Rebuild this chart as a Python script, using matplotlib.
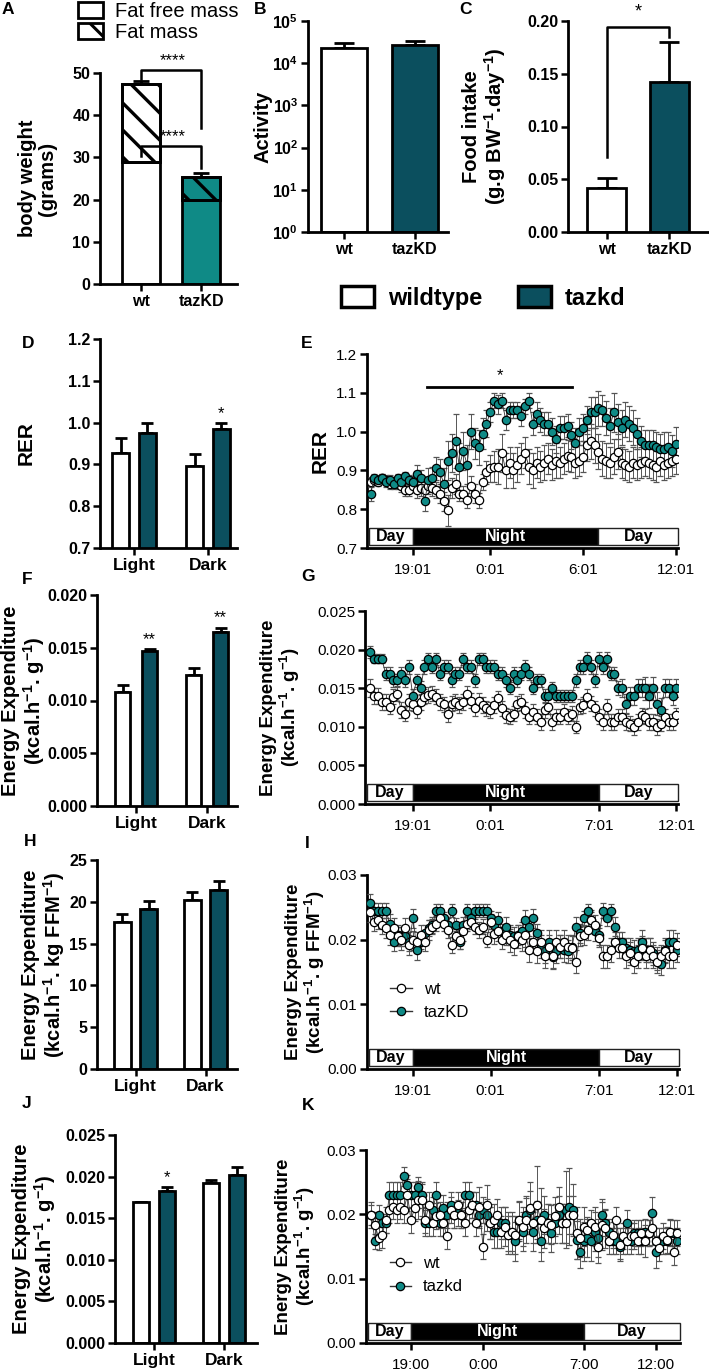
import numpy as np
import matplotlib
matplotlib.use('Agg')
import matplotlib.pyplot as plt
from matplotlib.patches import Patch, Rectangle
from matplotlib.lines import Line2D
import matplotlib.transforms as mtransforms
from matplotlib.ticker import NullLocator

plt.rcParams.update({
    'font.family': ['Liberation Sans', 'DejaVu Sans'],
    'mathtext.fontset': 'custom',
    'mathtext.rm': 'Liberation Sans',
    'mathtext.bf': 'Liberation Sans:bold',
    'mathtext.it': 'Liberation Sans:italic',
    'hatch.linewidth': 2.2,
    'axes.linewidth': 1.8,
})

KD_DARK = '#0b4f5e'
KD_TEAL = '#0f8a86'

# ---------------- data ----------------
genotypes = ['wt', 'tazKD']
fat_free_mass = [28.8, 20.0]
fat_free_err = [1.1, 1.0]
total_mass = [47.3, 25.4]
total_err = [0.8, 0.9]
activity = [2.3e4, 2.7e4]
activity_err = [0.7e4, 0.7e4]
food_intake = [0.042, 0.142]
food_err = [0.009, 0.038]

periods = ['Light', 'Dark']
rer_wt = [0.928, 0.897]
rer_wt_err = [0.035, 0.028]
rer_kd = [0.975, 0.985]
rer_kd_err = [0.023, 0.013]
ee_wt = [0.0108, 0.0124]
ee_wt_err = [0.0007, 0.0007]
ee_kd = [0.0147, 0.0165]
ee_kd_err = [0.0002, 0.0004]
eeffm_wt = [17.6, 20.2]
eeffm_wt_err = [1.0, 1.0]
eeffm_kd = [19.1, 21.4]
eeffm_kd_err = [1.0, 1.1]
ee2_wt = [0.0169, 0.0192]
ee2_wt_err = [0.0, 0.0004]
ee2_kd = [0.0183, 0.0202]
ee2_kd_err = [0.0004, 0.001]

# time series (hours; 24 = midnight), 15-min bins
t_main = np.arange(16.25, 36.01, 0.25)
t_K = np.arange(16.25, 37.51, 0.25)

E_kd = [0.84,0.88,0.875,0.88,0.87,0.875,0.865,0.88,0.87,0.885,
        0.875,0.87,0.89,0.88,0.82,0.875,0.88,0.905,0.895,0.865,
        0.925,0.945,0.975,0.91,0.95,0.915,1.0,0.97,0.96,0.995,
        1.02,1.05,1.08,1.07,1.08,1.03,1.055,1.055,1.055,1.04,
        1.065,1.08,1.02,1.045,1.03,1.02,1.02,1.0,0.98,1.01,
        1.01,1.015,0.99,0.97,1.0,1.01,1.03,1.05,1.05,1.06,
        1.055,1.035,1.015,1.05,1.025,1.01,1.03,1.02,1.01,0.995,
        0.975,0.965,0.965,0.965,0.96,0.955,0.955,0.96,0.95,0.968]
E_kd_err = [0.02,0.012,0.012,0.012,0.012,0.012,0.012,0.012,0.012,0.012,0.012,0.015,
            0.025,0.02,0.025,0.03,0.03,0.03,0.035,0.04,
            0.05,0.05,0.07,0.06,0.05,0.05,0.045,0.04,0.045,0.04,0.035,
            0.025,0.02,0.025,0.02,0.025,0.02,0.02,0.02,0.025,0.02,0.02,0.03,0.03,0.03,0.03,
            0.03,0.035,0.035,0.03,0.03,0.03,0.035,0.04,0.035,0.035,0.035,
            0.04,0.04,0.045,0.04,0.045,0.045,0.05,0.045,0.045,0.045,0.045,0.045,
            0.04,0.04,0.04,0.04,0.04,0.04,0.04,0.045,0.04,0.04,0.045]
E_wt = [0.87,0.875,0.87,0.88,0.875,0.865,0.87,0.865,0.86,0.85,
        0.85,0.86,0.85,0.855,0.85,0.86,0.855,0.85,0.84,0.82,
        0.797,0.855,0.865,0.84,0.84,0.823,0.86,0.84,0.823,0.87,
        0.895,0.905,0.91,0.91,0.945,0.9,0.92,0.9,0.915,0.93,
        0.945,0.91,0.9,0.92,0.91,0.92,0.93,0.915,0.925,0.92,
        0.93,0.938,0.935,0.92,0.925,0.935,0.965,0.975,0.965,0.948,
        0.93,0.925,0.92,0.935,0.948,0.92,0.915,0.91,0.92,0.915,
        0.92,0.925,0.92,0.915,0.91,0.925,0.915,0.92,0.925,0.93]
E_wt_err = [0.012,0.012,0.01,0.012,0.012,0.012,0.012,0.012,0.015,0.015,0.015,0.015,
            0.02,0.02,0.02,0.02,0.02,0.02,0.025,0.025,0.04,0.025,0.025,0.02,0.02,0.02,0.025,0.025,0.02,0.02,
            0.03,0.035,0.04,0.045,0.05,0.045,0.04,0.045,0.045,0.04,
            0.04,0.045,0.045,0.04,0.04,0.045,0.04,0.04,0.045,0.04,
            0.04,0.04,0.04,0.04,0.04,0.04,0.04,0.045,0.045,0.045,
            0.045,0.045,0.04,0.045,0.045,0.04,0.04,0.04,0.04,0.04,
            0.04,0.04,0.04,0.04,0.04,0.04,0.04,0.04,0.04,0.04]

G_kd = [0.0197,0.0188,0.0188,0.0188,0.0169,0.0169,0.016,0.016,0.0168,0.016,
        0.0178,0.014,0.016,0.015,0.0178,0.0188,0.0178,0.0188,0.0169,0.0178,
        0.0178,0.016,0.0169,0.0169,0.0188,0.0178,0.0178,0.016,0.0188,0.0188,
        0.0178,0.0178,0.0178,0.0169,0.0169,0.016,0.015,0.0169,0.016,0.0169,
        0.0178,0.0169,0.015,0.016,0.016,0.014,0.014,0.015,0.014,0.014,
        0.014,0.014,0.014,0.016,0.0178,0.0178,0.0188,0.0178,0.016,0.0188,
        0.0178,0.0188,0.0169,0.0169,0.015,0.015,0.013,0.014,0.014,0.015,
        0.015,0.015,0.014,0.015,0.013,0.0122,0.015,0.015,0.014,0.015]
G_kd_err = [0.0008,0.0006,0.0006,0.0006,0.0008,0.0008,0.0009,0.0009,0.0009,0.0009,
            0.0009,0.0009,0.0009,0.0009,0.0009,0.0008,0.0008,0.0008,0.0008,0.0008,
            0.0008,0.0008,0.0008,0.0008,0.0008,0.0008,0.0008,0.0008,0.0008,0.0008,
            0.0008,0.0008,0.0008,0.0008,0.0008,0.0008,0.0008,0.0008,0.0008,0.0008,
            0.0008,0.0008,0.0008,0.0008,0.0009,0.0009,0.0009,0.0008,0.0008,0.0008,
            0.0008,0.0008,0.0008,0.0009,0.0009,0.0009,0.0009,0.0009,0.0009,0.0009,
            0.0009,0.0009,0.0009,0.0009,0.0009,0.0012,0.0012,0.0012,0.0012,0.0012,
            0.0012,0.0015,0.0015,0.0015,0.0015,0.0015,0.0012,0.0012,0.0012,0.0012]
G_wt = [0.0150,0.0140,0.0140,0.0132,0.0132,0.0126,0.0139,0.0143,0.0122,0.0117,
        0.0132,0.0130,0.0122,0.0132,0.0139,0.0141,0.0143,0.0139,0.0132,0.0129,
        0.0116,0.0130,0.0132,0.0128,0.0132,0.0143,0.0134,0.0124,0.0134,0.0128,
        0.0124,0.0122,0.0128,0.0137,0.0124,0.0115,0.0113,0.0117,0.0130,0.0132,
        0.0122,0.0113,0.0119,0.0113,0.0106,0.0122,0.0126,0.0106,0.0113,0.0113,
        0.0119,0.0113,0.0117,0.0100,0.0126,0.0128,0.0139,0.0130,0.0124,0.0113,
        0.0106,0.0126,0.0106,0.0106,0.0113,0.0113,0.0106,0.0104,0.0100,0.0106,
        0.0115,0.0113,0.0106,0.0106,0.0100,0.0104,0.0113,0.0106,0.0106,0.0115]
G_wt_err = [0.0012,0.001,0.001,0.001,0.001,0.001,0.001,0.001,0.001,0.001,
            0.001,0.001,0.001,0.001,0.001,0.001,0.001,0.001,0.001,0.001,
            0.001,0.001,0.001,0.001,0.001,0.001,0.001,0.001,0.001,0.001,
            0.001,0.001,0.001,0.001,0.001,0.001,0.001,0.001,0.001,0.001,
            0.001,0.001,0.001,0.001,0.001,0.001,0.001,0.001,0.001,0.001,
            0.001,0.001,0.001,0.0008,0.001,0.001,0.001,0.001,0.001,0.001,
            0.001,0.001,0.001,0.001,0.001,0.001,0.001,0.001,0.001,0.001,
            0.001,0.001,0.001,0.001,0.001,0.001,0.001,0.001,0.001,0.001]

I_kd = [0.0256,0.0245,0.0245,0.0245,0.0245,0.0225,0.0197,0.0207,0.0205,0.0205,
        0.0197,0.0233,0.0184,0.0197,0.021,0.0218,0.0223,0.0245,0.0245,0.0233,
        0.0223,0.0245,0.0223,0.0197,0.0223,0.0245,0.0233,0.0245,0.0245,0.0245,
        0.0245,0.0233,0.0223,0.0231,0.0213,0.022,0.0207,0.0205,0.0207,0.0213,
        0.0231,0.022,0.0233,0.021,0.0189,0.0182,0.0197,0.0173,0.0182,0.0189,
        0.0184,0.0182,0.0189,0.022,0.021,0.0233,0.0245,0.0231,0.0213,0.0207,
        0.0245,0.0233,0.0245,0.022,0.0197,0.0197,0.0187,0.0184,0.0182,0.0184,
        0.0197,0.0184,0.0184,0.0179,0.0171,0.0163,0.0184,0.0197,0.0197,0.0184]
I_kd_err = [0.0015,0.0012,0.0012,0.0012,0.0012,0.0015,0.0015,0.0015,0.0015,0.0015,
            0.0015,0.0015,0.0015,0.0012,0.0012,0.0012,0.0012,0.001,0.001,0.001,
            0.001,0.001,0.001,0.0012,0.0012,0.001,0.001,0.001,0.001,0.001,
            0.001,0.0012,0.0012,0.0012,0.0012,0.0015,0.0015,0.0015,0.0015,0.0015,
            0.0015,0.0015,0.0015,0.0015,0.0018,0.0018,0.0018,0.0018,0.0018,0.0018,
            0.0018,0.0018,0.0018,0.0015,0.0015,0.0012,0.001,0.0012,0.0015,0.0015,
            0.0012,0.0012,0.001,0.0015,0.0015,0.0015,0.0015,0.0018,0.0018,0.0018,
            0.0018,0.0018,0.0018,0.0018,0.0018,0.0018,0.0018,0.0018,0.0018,0.0018]
I_wt = [0.0243,0.0228,0.0231,0.0223,0.0218,0.0207,0.0218,0.0205,0.0199,0.0218,
        0.0192,0.0199,0.0197,0.0207,0.0197,0.0215,0.022,0.0225,0.0233,0.0225,
        0.0215,0.0192,0.0205,0.02,0.0213,0.0225,0.0228,0.022,0.0215,0.022,
        0.02,0.0228,0.0208,0.0213,0.02,0.0207,0.0199,0.0194,0.0205,0.02,
        0.0207,0.0184,0.0197,0.0182,0.0197,0.0174,0.0189,0.0174,0.0197,0.0189,
        0.0197,0.0189,0.0187,0.0166,0.0205,0.0207,0.0215,0.0231,0.0223,0.0203,
        0.0174,0.0174,0.0184,0.0197,0.0187,0.0187,0.0174,0.0179,0.0166,0.0174,
        0.0187,0.0174,0.0184,0.0174,0.0166,0.0174,0.0182,0.0174,0.0174,0.0192]
I_wt_err = [0.0015,0.0015,0.0015,0.0015,0.0015,0.0015,0.0015,0.0015,0.0015,0.0015,
            0.0015,0.0015,0.0015,0.0015,0.0015,0.0015,0.0012,0.0012,0.0012,0.0012,
            0.0012,0.0012,0.0012,0.0015,0.0015,0.0012,0.0012,0.0012,0.0012,0.0012,
            0.0012,0.0012,0.0015,0.0015,0.0015,0.0015,0.0018,0.0018,0.0018,0.0018,
            0.0018,0.0018,0.0018,0.0018,0.0018,0.0018,0.0018,0.0018,0.0018,0.0018,
            0.0018,0.0018,0.0018,0.0018,0.0015,0.0015,0.0015,0.0015,0.0015,0.0015,
            0.0018,0.0018,0.0018,0.0015,0.0015,0.0015,0.0018,0.0018,0.0018,0.0018,
            0.0018,0.0018,0.0018,0.0018,0.0018,0.0018,0.0018,0.0018,0.0018,0.0018]

K_kd = [0.0199,0.0158,0.0199,0.0186,0.0186,0.023,0.023,0.023,0.023,0.0259,
        0.0246,0.023,0.023,0.0243,0.023,0.0186,0.0186,0.0207,0.023,0.0186,
        0.021,0.0199,0.0215,0.0199,0.0202,0.0199,0.023,0.023,0.0215,0.0215,
        0.0199,0.0207,0.0199,0.0186,0.0173,0.0173,0.0186,0.0186,0.0173,0.0168,
        0.0158,0.0189,0.0173,0.0199,0.0207,0.0173,0.0191,0.0158,0.0199,0.0186,
        0.0171,0.0186,0.0199,0.0186,0.0207,0.0212,0.0207,0.0160,0.0142,0.0158,
        0.0163,0.0158,0.0173,0.0163,0.0199,0.0186,0.0173,0.0158,0.0158,0.0150,
        0.0158,0.0186,0.0158,0.0171,0.0171,0.0158,0.0173,0.0171,0.0202,0.0142,
        0.0158,0.0158,0.0158,0.0171,0.0171,0.0158]
K_kd_err = [0.0015,0.0012,0.0015,0.0015,0.0015,0.002,0.002,0.002,0.002,0.0015,
            0.0015,0.002,0.002,0.0015,0.002,0.002,0.002,0.002,0.002,0.002,
            0.002,0.002,0.002,0.002,0.002,0.002,0.002,0.002,0.002,0.002,
            0.002,0.002,0.0025,0.0025,0.0025,0.0025,0.0025,0.0025,0.003,0.003,
            0.003,0.003,0.003,0.003,0.003,0.003,0.003,0.003,0.003,0.003,
            0.003,0.003,0.003,0.003,0.006,0.006,0.004,0.003,0.0025,0.003,
            0.003,0.003,0.003,0.003,0.002,0.002,0.002,0.002,0.002,0.002,
            0.002,0.002,0.002,0.002,0.002,0.002,0.002,0.002,0.0025,0.0025,
            0.002,0.002,0.002,0.002,0.002,0.002]
K_wt = [0.0199,0.0184,0.0163,0.0168,0.0191,0.0207,0.0212,0.0207,0.0212,0.0207,
        0.0230,0.0191,0.0210,0.0222,0.0222,0.0191,0.0215,0.0186,0.0197,0.0199,
        0.0186,0.0166,0.0207,0.0199,0.0215,0.0199,0.0186,0.0207,0.0215,0.0186,
        0.0212,0.0150,0.0215,0.0186,0.0191,0.0199,0.0173,0.0181,0.0168,0.0173,
        0.0168,0.0191,0.0181,0.0191,0.0210,0.0186,0.0215,0.0191,0.0178,0.0186,
        0.0184,0.0197,0.0212,0.0186,0.0186,0.0199,0.0199,0.0171,0.0163,0.0181,
        0.0176,0.0186,0.0181,0.0150,0.0184,0.0178,0.0158,0.0168,0.0191,0.0153,
        0.0166,0.0158,0.0166,0.0166,0.0158,0.0171,0.0158,0.0171,0.0178,0.0158,
        0.0147,0.0166,0.0160,0.0173,0.0142,0.0171]
K_wt_err = [0.002,0.002,0.0018,0.002,0.002,0.002,0.002,0.002,0.002,0.002,
            0.0025,0.002,0.002,0.003,0.0025,0.002,0.002,0.002,0.002,0.002,
            0.002,0.002,0.002,0.002,0.002,0.002,0.002,0.002,0.002,0.002,
            0.003,0.002,0.003,0.0025,0.0025,0.0025,0.0025,0.003,0.003,0.003,
            0.003,0.003,0.003,0.0035,0.004,0.003,0.006,0.005,0.003,0.003,
            0.003,0.003,0.003,0.003,0.003,0.003,0.003,0.004,0.003,0.003,
            0.002,0.002,0.003,0.0025,0.004,0.003,0.002,0.002,0.002,0.0025,
            0.002,0.002,0.002,0.002,0.002,0.002,0.0025,0.002,0.0025,0.002,
            0.002,0.002,0.002,0.002,0.002,0.002]

night_start, night_end = 19, 31
rer_sig_span = [19.9, 29.3]

# ---------------- figure ----------------
W, H = 709, 1370
fig = plt.figure(figsize=(W / 100, H / 100), dpi=100)


def add_ax(l, t, r, b):
    return fig.add_axes([l / W, 1 - b / H, (r - l) / W, (b - t) / H])


def style_common(ax, bold=True, labelsize=11.5):
    for s in ['top', 'right']:
        ax.spines[s].set_visible(False)
    for s in ['left', 'bottom']:
        ax.spines[s].set_linewidth(2.0)
    ax.tick_params(direction='out', length=5, width=1.8, labelsize=labelsize, pad=2)
    if bold:
        for lab in ax.get_xticklabels() + ax.get_yticklabels():
            lab.set_fontweight('bold')


def set_ylabel(ax, text, xpos, size=14):
    ax.set_ylabel(text, fontsize=size, fontweight='bold', linespacing=1.05)
    ax.yaxis.set_label_coords(xpos, 0.5)


def upper_err(ax, x, y, e, capsize=5):
    ax.errorbar(x, y, yerr=[np.zeros(len(y)), e], fmt='none', ecolor='black',
                elinewidth=2, capsize=capsize, capthick=2, zorder=1)


def diag_hatch(ax, patch, pitch=27, lw=2.4):
    bb = patch.get_window_extent()
    x0, y0, x1, y1 = bb.x0, bb.y0, bb.x1, bb.y1
    h = y1 - y0
    c = x0 - h + 6
    while c < x1:
        ln = Line2D([c, c + h], [y1, y0], transform=mtransforms.IdentityTransform(),
                    color='black', lw=lw, zorder=3)
        ax.add_line(ln)
        ln.set_clip_path(patch)
        c += pitch


# ---- A ----
axA = add_ax(100, 73, 237, 284)
xa = np.arange(len(genotypes))
fat_mass = np.array(total_mass) - np.array(fat_free_mass)
colsA = ['white', KD_TEAL]
upper_err(axA, xa, fat_free_mass, fat_free_err, capsize=6)
upper_err(axA, xa, total_mass, total_err, capsize=6)
axA.bar(xa, fat_free_mass, 0.63, color=colsA, edgecolor='black', lw=2, zorder=2)
fm_bars = axA.bar(xa, fat_mass, 0.63, bottom=fat_free_mass, color=colsA,
                  edgecolor='black', lw=2, zorder=2)
axA.set_xlim(-0.683, 1.59)
axA.set_ylim(0, 50)
axA.set_yticks([0, 10, 20, 30, 40, 50])
axA.set_xticks(xa)
axA.set_xticklabels(genotypes)
style_common(axA)
for p in fm_bars:
    diag_hatch(axA, p)
for p in fm_bars:
    axA.add_patch(Rectangle(p.get_xy(), p.get_width(), p.get_height(), fill=False,
                            ec='black', lw=2, zorder=4))
axA.plot([0, 0, 1, 1], [48.6, 50.7, 50.7, 37.0], color='black', lw=1.8, clip_on=False)
axA.plot([0, 0, 1, 1], [30.3, 32.7, 32.7, 27.5], color='black', lw=1.8, clip_on=False)
axA.text(0.53, 51.2, '****', ha='center', va='bottom', fontsize=12)
axA.text(0.53, 33.2, '****', ha='center', va='bottom', fontsize=12)
set_ylabel(axA, 'body weight\n(grams)', -0.314, size=14.5)
fig.legend([Patch(fc='white', ec='black', lw=2), Patch(fc='white', ec='black', lw=2, hatch='\\')],
           ['Fat free mass', 'Fat mass'], loc='upper left',
           bbox_to_anchor=(78 / W, 1 - 2 / H), frameon=False, fontsize=14.5,
           handlelength=1.25, handleheight=0.85, labelspacing=0.12, handletextpad=0.6,
           borderpad=0, borderaxespad=0)

# ---- B ----
axB = add_ax(308, 21, 448, 232)
axB.set_yscale('log')
upper_err(axB, xa, activity, activity_err, capsize=7)
axB.bar(xa, np.array(activity) - 1, 0.65, bottom=1, color=['white', KD_DARK],
        edgecolor='black', lw=2, zorder=2)
axB.set_ylim(1, 1e5)
axB.set_xlim(-0.507, 1.465)
axB.set_yticks([1, 10, 100, 1e3, 1e4, 1e5])
axB.set_yticklabels([r'$\mathbf{10^{%d}}$' % k for k in range(6)])
axB.yaxis.set_minor_locator(NullLocator())
axB.set_xticks(xa)
axB.set_xticklabels(genotypes)
style_common(axB)
set_ylabel(axB, 'Activity', -0.257, size=14.5)

# ---- C ----
axC = add_ax(568, 21, 708, 232)
upper_err(axC, xa, food_intake, food_err, capsize=7)
axC.bar(xa, food_intake, 0.62, color=['white', KD_DARK], edgecolor='black', lw=2, zorder=2)
axC.set_ylim(0, 0.2)
axC.set_xlim(-0.616, 1.62)
axC.set_yticks([0, 0.05, 0.10, 0.15, 0.20])
axC.set_yticklabels(['0.00', '0.05', '0.10', '0.15', '0.20'])
axC.set_xticks(xa)
axC.set_xticklabels(genotypes)
style_common(axC)
axC.plot([0, 0, 1, 1], [0.071, 0.194, 0.194, 0.185], color='black', lw=1.8, clip_on=False)
axC.text(0.5, 0.2005, '*', ha='center', va='bottom', fontsize=13)
set_ylabel(axC, 'Food intake\n(g.g BW$^{\\mathbf{-1}}$.day$^{\\mathbf{-1}}$)', -0.43, size=14.5)

# ---- big legend ----
fig.legend([Patch(fc='white', ec='black', lw=2.5), Patch(fc=KD_DARK, ec='black', lw=2.5)],
           ['wildtype', 'tazkd'], loc='center', bbox_to_anchor=(483 / W, 1 - 298 / H),
           ncol=2, frameon=False, prop={'weight': 'bold', 'size': 17},
           handlelength=1.4, handleheight=1.0, handletextpad=0.6, columnspacing=1.5,
           borderpad=0, borderaxespad=0)


# ---- grouped bar panels ----
def grouped_panel(box, wt, wt_err, kd, kd_err, ylim, yticks, ylabels, off, width, xlim,
                  stars, ylabel, ylab_x, ylab_size=14.5):
    ax = add_ax(*box)
    xg = np.arange(len(periods))
    upper_err(ax, xg - off, wt, wt_err, capsize=4.5)
    upper_err(ax, xg + off, kd, kd_err, capsize=4.5)
    ax.bar(xg - off, wt, width, color='white', edgecolor='black', lw=2, zorder=2)
    ax.bar(xg + off, kd, width, color=KD_DARK, edgecolor='black', lw=2, zorder=2)
    ax.set_ylim(*ylim)
    ax.set_xlim(*xlim)
    ax.set_yticks(yticks)
    ax.set_yticklabels(ylabels)
    ax.set_xticks(xg)
    ax.set_xticklabels(periods)
    style_common(ax)
    ax.tick_params(axis='x', labelsize=12.5)
    for lab in ax.get_xticklabels():
        lab.set_fontweight('bold')
    span = ylim[1] - ylim[0]
    for i, s in enumerate(stars):
        if s:
            ax.text(i + off, kd[i] + kd_err[i] + 0.01 * span, s, ha='center', va='bottom', fontsize=12)
    set_ylabel(ax, ylabel, ylab_x, size=ylab_size)
    return ax


axD = grouped_panel((100, 339, 237, 548), rer_wt, rer_wt_err, rer_kd, rer_kd_err,
                    (0.7, 1.2), [0.7, 0.8, 0.9, 1.0, 1.1, 1.2],
                    ['0.7', '0.8', '0.9', '1.0', '1.1', '1.2'], 0.18, 0.23, (-0.46, 1.39),
                    ['', '*'], 'RER', -0.467, ylab_size=15)
axF = grouped_panel((97, 595, 237, 806), ee_wt, ee_wt_err, ee_kd, ee_kd_err,
                    (0, 0.02), [0, 0.005, 0.01, 0.015, 0.02],
                    ['0.000', '0.005', '0.010', '0.015', '0.020'], 0.19, 0.22, (-0.55, 1.42),
                    ['**', '**'], 'Energy Expenditure\n(kcal.h$^{\\mathbf{-1}}$. g$^{\\mathbf{-1}}$)',
                    -0.357)
axH = grouped_panel((97, 860, 237, 1069), eeffm_wt, eeffm_wt_err, eeffm_kd, eeffm_kd_err,
                    (0, 25), [0, 5, 10, 15, 20, 25],
                    ['0', '5', '10', '15', '20', '25'], 0.186, 0.235, (-0.55, 1.45),
                    ['', ''], 'Energy Expenditure\n(kcal.h$^{\\mathbf{-1}}$. kg FFM$^{\\mathbf{-1}}$)',
                    -0.214)
axJ = grouped_panel((115, 1135, 257, 1343), ee2_wt, ee2_wt_err, ee2_kd, ee2_kd_err,
                    (0, 0.025), [0, 0.005, 0.01, 0.015, 0.02, 0.025],
                    ['0.000', '0.005', '0.010', '0.015', '0.020', '0.025'], 0.186, 0.22,
                    (-0.557, 1.47), ['*', ''],
                    'Energy Expenditure\n(kcal.h$^{\\mathbf{-1}}$. g$^{\\mathbf{-1}}$)', -0.40)


# ---- time series panels ----
def day_night(ax):
    x0, x1 = ax.get_xlim()
    trans = mtransforms.blended_transform_factory(ax.transData, ax.transAxes)
    segs = [(x0 + 0.13, night_start, 'white', 'Day', 'black'),
            (night_start, night_end, 'black', 'Night', 'white'),
            (night_end, x1, 'white', 'Day', 'black')]
    for a, b, fc, txt, tc in segs:
        ax.add_patch(Rectangle((a, 0.015), b - a, 0.09, transform=trans, fc=fc, ec='#222222',
                               lw=1.0, zorder=6, clip_on=False))
        ax.text((a + b) / 2, 0.06, txt, transform=trans, ha='center', va='center', color=tc,
                fontweight='bold', fontsize=11.5, zorder=7)


def draw_series(ax, t, y, e, fc):
    ax.errorbar(t, y, yerr=e, fmt='-o', color='#333333', lw=0.6, ms=6, mfc=fc, mec='black',
                mew=0.9, ecolor='#555555', elinewidth=0.7, capsize=2.3, capthick=0.7, zorder=3)


def ts_panel(box, t, wt, wt_err, kd, kd_err, xlim, ylim, yticks, ylabels, xticks, xlabels,
             ylabel, ylab_x, kd_first=False, ylab_size=13.5):
    ax = add_ax(*box)
    if kd_first:
        draw_series(ax, t, kd, kd_err, KD_TEAL)
        draw_series(ax, t, wt, wt_err, 'white')
    else:
        draw_series(ax, t, wt, wt_err, 'white')
        draw_series(ax, t, kd, kd_err, KD_TEAL)
    ax.set_xlim(*xlim)
    ax.set_ylim(*ylim)
    ax.set_yticks(yticks)
    ax.set_yticklabels(ylabels)
    ax.set_xticks(xticks)
    ax.set_xticklabels(xlabels)
    style_common(ax, bold=False, labelsize=11)
    ax.tick_params(axis='x', pad=6)
    day_night(ax)
    set_ylabel(ax, ylabel, ylab_x, size=ylab_size)
    return ax


axE = ts_panel((367, 354, 678, 548), t_main, E_wt, E_wt_err, E_kd, E_kd_err, (16.02, 36.15),
               (0.7, 1.2), [0.7, 0.8, 0.9, 1.0, 1.1, 1.2], ['0.7', '0.8', '0.9', '1.0', '1.1', '1.2'],
               [19, 24, 30, 36], ['19:01', '0:01', '6:01', '12:01'], 'RER', -0.119, ylab_size=15)
axE.plot(rer_sig_span, [1.115, 1.115], color='black', lw=2)
axE.text(np.mean(rer_sig_span), 1.125, '*', ha='center', va='bottom', fontsize=12)

axG = ts_panel((365, 611, 678, 804), t_main, G_wt, G_wt_err, G_kd, G_kd_err, (15.92, 36.1),
               (0, 0.025), [0, 0.005, 0.01, 0.015, 0.02, 0.025],
               ['0.000', '0.005', '0.010', '0.015', '0.020', '0.025'],
               [19, 24, 31, 36], ['19:01', '0:01', '7:01', '12:01'],
               'Energy Expenditure\n(kcal.h$^{\\mathbf{-1}}$. g$^{\\mathbf{-1}}$)', -0.201)

axI = ts_panel((367, 875, 679, 1069), t_main, I_wt, I_wt_err, I_kd, I_kd_err, (16.03, 36.15),
               (0, 0.03), [0, 0.01, 0.02, 0.03], ['0.00', '0.01', '0.02', '0.03'],
               [19, 24, 31, 36], ['19:01', '0:01', '7:01', '12:01'],
               'Energy Expenditure\n(kcal.h$^{\\mathbf{-1}}$. g FFM$^{\\mathbf{-1}}$)', -0.128,
               kd_first=True)

axK = ts_panel((366, 1150, 680, 1343), t_K, K_wt, K_wt_err, K_kd, K_kd_err, (15.875, 37.68),
               (0, 0.03), [0, 0.01, 0.02, 0.03], ['0.00', '0.01', '0.02', '0.03'],
               [19, 24, 31, 36], ['19:00', '0:00', '7:00', '12:00'],
               'Energy Expenditure\n(kcal.h$^{\\mathbf{-1}}$. g$^{\\mathbf{-1}}$)', -0.156,
               kd_first=True)


def series_legend(ax, labels):
    h_wt = Line2D([], [], color='#333333', lw=1, marker='o', ms=6, mfc='white', mec='black', mew=0.9)
    h_kd = Line2D([], [], color='#333333', lw=1, marker='o', ms=6, mfc=KD_TEAL, mec='black', mew=0.9)
    ax.legend([h_wt, h_kd], labels, loc='upper left', bbox_to_anchor=(0.075, 0.45), frameon=False,
              fontsize=12, handlelength=1.3, handletextpad=0.7, labelspacing=0.5,
              borderpad=0, borderaxespad=0)


series_legend(axI, ['wt', 'tazKD'])
series_legend(axK, ['wt', 'tazkd'])

# panel letters
for letter, (px, py) in {'A': (8, 10), 'B': (260, 10), 'C': (466, 10), 'D': (28, 343),
                         'E': (307, 343), 'F': (27, 580), 'G': (308, 577), 'H': (30, 842),
                         'I': (307, 843), 'J': (27, 1103), 'K': (308, 1105)}.items():
    fig.text(px / W, 1 - py / H, letter, ha='center', va='center', fontsize=12.5, fontweight='bold')

fig.savefig('out.png', dpi=100)
